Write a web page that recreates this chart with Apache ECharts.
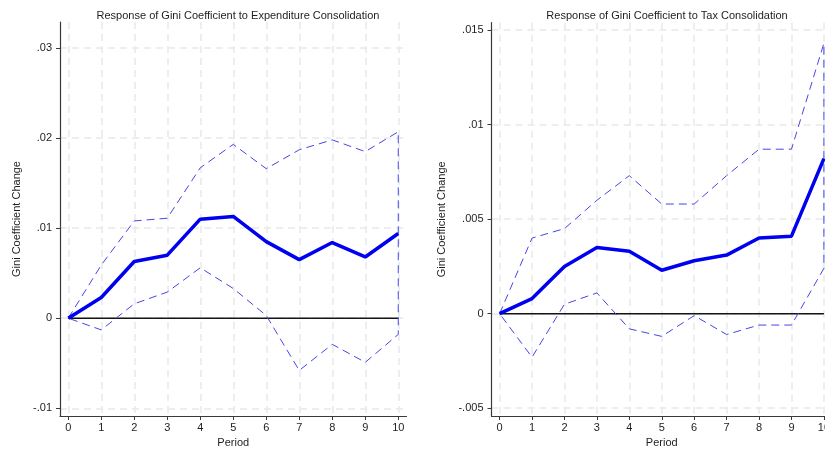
<!DOCTYPE html>
<html>
<head>
<meta charset="utf-8">
<script src="https://cdn.jsdelivr.net/npm/echarts@6/dist/echarts.min.js"></script>
<style>
  html, body { margin: 0; padding: 0; background: #ffffff; }
  #chart { width: 825px; height: 453px; }
</style>
</head>
<body>
<div id="chart"></div>
<script>
// Impulse responses of the Gini coefficient, periods 0-10
const periods = [0, 1, 2, 3, 4, 5, 6, 7, 8, 9, 10];

// Expenditure consolidation: point estimate and confidence bounds
const expResponse = [0, 0.0023, 0.0063, 0.0070, 0.0110, 0.0113, 0.0085, 0.0065, 0.0084, 0.0068, 0.0094];
const expUpper    = [0, 0.0059, 0.0108, 0.0111, 0.0167, 0.0193, 0.0166, 0.0187, 0.0198, 0.0185, 0.0207];
const expLower    = [0, -0.0013, 0.0016, 0.0029, 0.0056, 0.0033, 0.0003, -0.0058, -0.0029, -0.0049, -0.0018];

// Tax consolidation: point estimate and confidence bounds
const taxResponse = [0, 0.0008, 0.0025, 0.0035, 0.0033, 0.0023, 0.0028, 0.0031, 0.0040, 0.0041, 0.0082];
const taxUpper    = [0, 0.0040, 0.0045, 0.0060, 0.0073, 0.0058, 0.0058, 0.0073, 0.0087, 0.0087, 0.0143];
const taxLower    = [0, -0.0023, 0.0005, 0.0011, -0.0008, -0.0012, -0.0001, -0.0011, -0.0006, -0.0006, 0.0024];

// Axis ticks and their printed labels
const expTickValues = [-0.01, 0, 0.01, 0.02, 0.03];
const expTickLabels = ['-.01', '0', '.01', '.02', '.03'];
const taxTickValues = [-0.005, 0, 0.005, 0.01, 0.015];
const taxTickLabels = ['-.005', '0', '.005', '.01', '.015'];

const titles = [
  'Response of Gini Coefficient to Expenditure Consolidation',
  'Response of Gini Coefficient to Tax Consolidation'
];

const FONT = '"Liberation Sans", Arial, sans-serif';
const TEXT = '#1e1e1e';

function pairs(xs, ys) { return xs.map((x, i) => [x, ys[i]]); }

// Confidence band outline: along the upper bound, then back along the lower bound
function bandOutline(upper, lower) {
  const up = pairs(periods, upper);
  const down = pairs(periods, lower).reverse();
  return up.concat(down);
}

function labelFor(values, labels) {
  return function (v) {
    let best = 0;
    for (let i = 1; i < values.length; i++) {
      if (Math.abs(values[i] - v) < Math.abs(values[best] - v)) best = i;
    }
    return labels[best];
  };
}

const gridLine = { show: true, lineStyle: { color: '#e9e9e9', width: 1.5, type: [7, 5] } };
const axisLine = { show: true, onZero: false, lineStyle: { color: '#3a3a3a', width: 1.2 } };
const axisTick = (vals) => ({ show: true, length: 4, inside: false, customValues: vals, lineStyle: { color: '#3a3a3a', width: 1 } });

function xAxisFor(gridIndex) {
  return {
    type: 'value', gridIndex: gridIndex, min: -0.25, max: 10.25,
    name: 'Period', nameLocation: 'middle', nameGap: 19,
    nameTextStyle: { color: TEXT, fontFamily: FONT, fontSize: 11 },
    axisLine: axisLine,
    axisTick: axisTick(periods),
    axisLabel: { customValues: periods, color: TEXT, fontFamily: FONT, fontSize: 11, margin: 6 },
    splitLine: gridLine
  };
}

function yAxisFor(gridIndex, min, max, tickValues, tickLabels, gap) {
  return {
    type: 'value', gridIndex: gridIndex, min: min, max: max,
    name: 'Gini Coefficient Change', nameLocation: 'middle', nameGap: gap, nameRotate: 90,
    nameTextStyle: { color: TEXT, fontFamily: FONT, fontSize: 11 },
    axisLine: axisLine,
    axisTick: axisTick(tickValues),
    axisLabel: { customValues: tickValues, formatter: labelFor(tickValues, tickLabels), color: TEXT, fontFamily: FONT, fontSize: 11, margin: 8 },
    splitLine: gridLine
  };
}

function seriesFor(idx, response, upper, lower) {
  return [
    {
      type: 'line', xAxisIndex: idx, yAxisIndex: idx, z: 2,
      data: [[periods[0], 0], [periods[periods.length - 1], 0]],
      symbol: 'none', silent: true,
      lineStyle: { color: '#141414', width: 1.5 }
    },
    {
      type: 'line', xAxisIndex: idx, yAxisIndex: idx, z: 3,
      data: bandOutline(upper, lower),
      symbol: 'none', silent: true,
      lineStyle: { color: '#4646e6', width: 1, type: [8, 5] }
    },
    {
      type: 'line', xAxisIndex: idx, yAxisIndex: idx, z: 4,
      data: pairs(periods, response),
      symbol: 'none', silent: true,
      lineStyle: { color: '#0000f0', width: 3.5 }
    }
  ];
}

const chart = echarts.init(document.getElementById('chart'), null, { renderer: 'canvas' });
chart.setOption({
  backgroundColor: '#ffffff',
  animation: false,
  title: [
    { text: titles[0], left: 233, top: 5, textAlign: 'center',
      textStyle: { color: TEXT, fontFamily: FONT, fontSize: 11, fontWeight: 'normal' } },
    { text: titles[1], left: 662, top: 5, textAlign: 'center',
      textStyle: { color: TEXT, fontFamily: FONT, fontSize: 11, fontWeight: 'normal' } }
  ],
  grid: [
    { left: 60, top: 22, width: 346.5, height: 394, outerBoundsMode: 'none', containLabel: false },
    { left: 491.5, top: 22.7, width: 340.5, height: 393.3, outerBoundsMode: 'none', containLabel: false }
  ],
  xAxis: [xAxisFor(0), xAxisFor(1)],
  yAxis: [
    yAxisFor(0, -0.01086, 0.03289, expTickValues, expTickLabels, 38),
    yAxisFor(1, -0.00541, 0.01539, taxTickValues, taxTickLabels, 44)
  ],
  series: seriesFor(0, expResponse, expUpper, expLower)
    .concat(seriesFor(1, taxResponse, taxUpper, taxLower))
});
</script>
</body>
</html>
